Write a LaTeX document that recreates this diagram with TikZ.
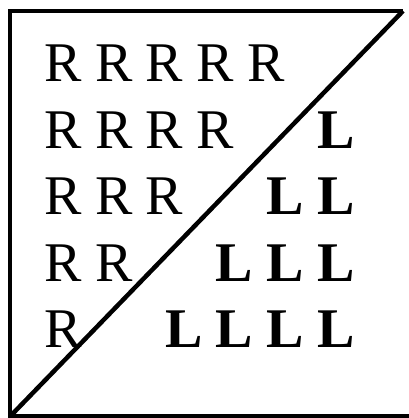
\documentclass[tikz,border=0pt]{standalone}
\usepackage{fontspec}
\setmainfont{Liberation Serif}
\begin{document}
\begin{tikzpicture}[
x=1pt, y=1pt,
every node/.style={
inner sep=0pt,
anchor=base,
font=\fontsize{56}{60}\selectfont
},
rletter/.style={},
lletter/.style={font=\fontsize{56}{60}\selectfont\bfseries},
border/.style={line width=4.5pt, line join=miter}
]
\useasboundingbox (0,0) rectangle (408,418);
% corners of the box
\coordinate (tl) at (10,407);
\coordinate (tr) at (403,407);
\coordinate (bl) at (10,1.5);
\coordinate (br) at (410,1.5);
\draw[border] (tr) -- (tl) -- (bl) -- (br);
\draw[border] (bl) -- (tr);
% R side
\foreach \row in {1,...,5} {
  \pgfmathtruncatemacro\nr{6-\row}
  \foreach \col in {1,...,\nr}
    \node[rletter] (r-\row-\col) at ({63+50.7*(\col-1)}, {336-66.5*(\row-1)}) {R};
}
% L side
\foreach \row in {2,...,5} {
  \pgfmathtruncatemacro\nl{\row-1}
  \foreach \col in {1,...,\nl}
    \node[lletter] (l-\row-\col) at ({336-50.7*(\col-1)}, {336-66.5*(\row-1)}) {L};
}
\end{tikzpicture}
\end{document}
